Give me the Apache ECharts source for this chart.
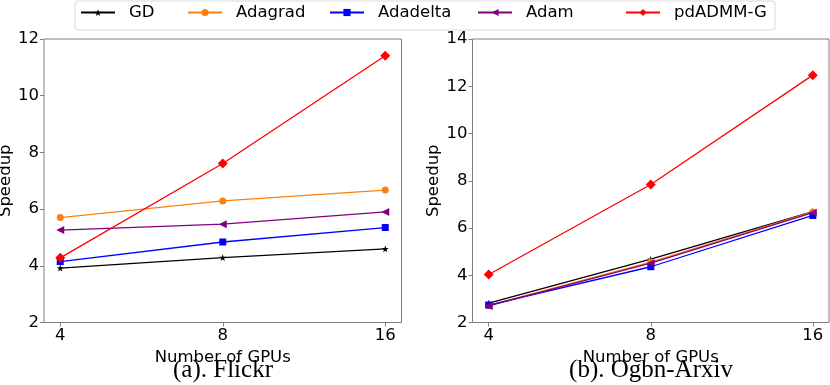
<!DOCTYPE html>
<html>
<head>
<meta charset="utf-8">
<script src="https://cdn.jsdelivr.net/npm/echarts@6/dist/echarts.min.js"></script>
<style>
html,body{margin:0;padding:0;background:#fff;}
#main{width:830px;height:385px;}
</style>
</head>
<body>
<div id="main"></div>
<script>
//x轴类别 (GPU数量)
var gpu_labels = ['4', '8', '16'];
var method_names = ['GD', 'Adagrad', 'Adadelta', 'Adam', 'pdADMM-G'];

//(a) Flickr 加速比
var flickr_gd = [3.92, 4.29, 4.60];
var flickr_adagrad = [5.70, 6.29, 6.67];
var flickr_adadelta = [4.15, 4.84, 5.35];
var flickr_adam = [5.26, 5.47, 5.90];
var flickr_pdadmm = [4.28, 7.61, 11.41];

//(b) Ogbn-Arxiv 加速比
var arxiv_gd = [2.82, 4.68, 6.69];
var arxiv_adagrad = [2.72, 4.56, 6.68];
var arxiv_adadelta = [2.74, 4.36, 6.53];
var arxiv_adam = [2.70, 4.51, 6.65];
var arxiv_pdadmm = [4.03, 7.84, 12.47];

var y_ticks_left = [2, 4, 6, 8, 10, 12];
var y_ticks_right = [2, 4, 6, 8, 10, 12, 14];

var star_path = 'path://M50,0 L61,35 L98,35 L68,57 L79,91 L50,70 L21,91 L32,57 L2,35 L39,35 Z';
var styles = [
	{color: '#000000', symbol: star_path, size: 7, rotate: 0},
	{color: '#ff7f0e', symbol: 'circle', size: 7, rotate: 0},
	{color: '#0000ff', symbol: 'rect', size: 7, rotate: 0},
	{color: '#800080', symbol: 'triangle', size: 8, rotate: 90},
	{color: '#ff0000', symbol: 'diamond', size: 10, rotate: 0}
];
//图例每项的起始x坐标
var legend_left = [80, 187, 329, 477, 625];

var axis_color = '#7f7f7f';
var tick_font = {fontFamily: 'DejaVu Sans', fontSize: 16.5, color: '#000'};

function to_pairs(arr){
	var out = [];
	for(var i=0;i<arr.length;i++){
		out.push([i, arr[i]]);
	}
	return out;
}

function make_x(grid_index){
	return {
		type: 'value', gridIndex: grid_index, min: -0.1, max: 2.1,
		splitLine: {show: false},
		axisLine: {show: false, onZero: false},
		axisTick: {show: true, length: 4, customValues: [0, 1, 2], lineStyle: {color: axis_color}},
		axisLabel: Object.assign({customValues: [0, 1, 2], margin: 5, formatter: function(v){ return gpu_labels[Math.round(v)]; }}, tick_font),
		name: 'Number of GPUs', nameLocation: 'middle', nameGap: 21,
		nameTextStyle: {fontFamily: 'DejaVu Sans', fontSize: 16.5, color: '#000'}
	};
}

function make_y(grid_index, ticks){
	return {
		type: 'value', gridIndex: grid_index,
		min: ticks[0], max: ticks[ticks.length-1], interval: 2,
		splitLine: {show: false},
		axisLine: {show: false, onZero: false},
		axisTick: {show: true, length: 4, lineStyle: {color: axis_color}},
		axisLabel: Object.assign({margin: 5}, tick_font),
		name: 'Speedup', nameLocation: 'middle', nameGap: 28, nameRotate: 90,
		nameTextStyle: {fontFamily: 'DejaVu Sans', fontSize: 16.5, color: '#000'}
	};
}

function make_series(data_list, grid_index){
	var out = [];
	for(var i=0;i<data_list.length;i++){
		var s = styles[i];
		out.push({
			name: method_names[i], type: 'line',
			xAxisIndex: grid_index, yAxisIndex: grid_index,
			data: to_pairs(data_list[i]),
			symbol: s.symbol, symbolSize: s.size, symbolRotate: s.rotate,
			showAllSymbol: true,
			lineStyle: {color: s.color, width: 1.3},
			itemStyle: {color: s.color, borderWidth: 0},
			animation: false, silent: true, z: 2 + i
		});
	}
	return out;
}

function make_legends(){
	var out = [];
	for(var i=0;i<method_names.length;i++){
		out.push({
			data: [method_names[i]],
			left: legend_left[i], top: 4,
			itemWidth: 34, itemHeight: 9,
			padding: 0,
			selectedMode: false,
			textStyle: {fontFamily: 'DejaVu Sans', fontSize: 16.5, color: '#000', padding: [0, 0, 0, 9]}
		});
	}
	return out;
}

var myChart = echarts.init(document.getElementById('main'), null, {renderer: 'canvas'});

var option = {
	backgroundColor: '#fff',
	animation: false,
	legend: make_legends(),
	graphic: [{
		type: 'rect', left: 74.5, top: 0.5, z: 0,
		shape: {width: 700, height: 29, r: 3},
		style: {fill: '#fff', stroke: '#d9d9d9', lineWidth: 1}
	}],
	title: [
		{text: '(a). Flickr', left: 223, top: 358, textAlign: 'center', padding: 0,
			textStyle: {fontFamily: 'Liberation Serif', fontSize: 25, fontWeight: 'normal', color: '#000'}},
		{text: '(b). Ogbn-Arxiv', left: 651, top: 358, textAlign: 'center', padding: 0,
			textStyle: {fontFamily: 'Liberation Serif', fontSize: 25, fontWeight: 'normal', color: '#000'}}
	],
	grid: [
		{left: 44, width: 357.5, top: 39, height: 283.5, show: true, borderColor: axis_color, borderWidth: 1,
			backgroundColor: 'transparent', outerBoundsMode: 'none', containLabel: false},
		{left: 472.5, width: 356.5, top: 39, height: 283.5, show: true, borderColor: axis_color, borderWidth: 1,
			backgroundColor: 'transparent', outerBoundsMode: 'none', containLabel: false}
	],
	xAxis: [make_x(0), make_x(1)],
	yAxis: [make_y(0, y_ticks_left), make_y(1, y_ticks_right)],
	series: make_series([flickr_gd, flickr_adagrad, flickr_adadelta, flickr_adam, flickr_pdadmm], 0)
		.concat(make_series([arxiv_gd, arxiv_adagrad, arxiv_adadelta, arxiv_adam, arxiv_pdadmm], 1))
};

myChart.setOption(option);
</script>
</body>
</html>
